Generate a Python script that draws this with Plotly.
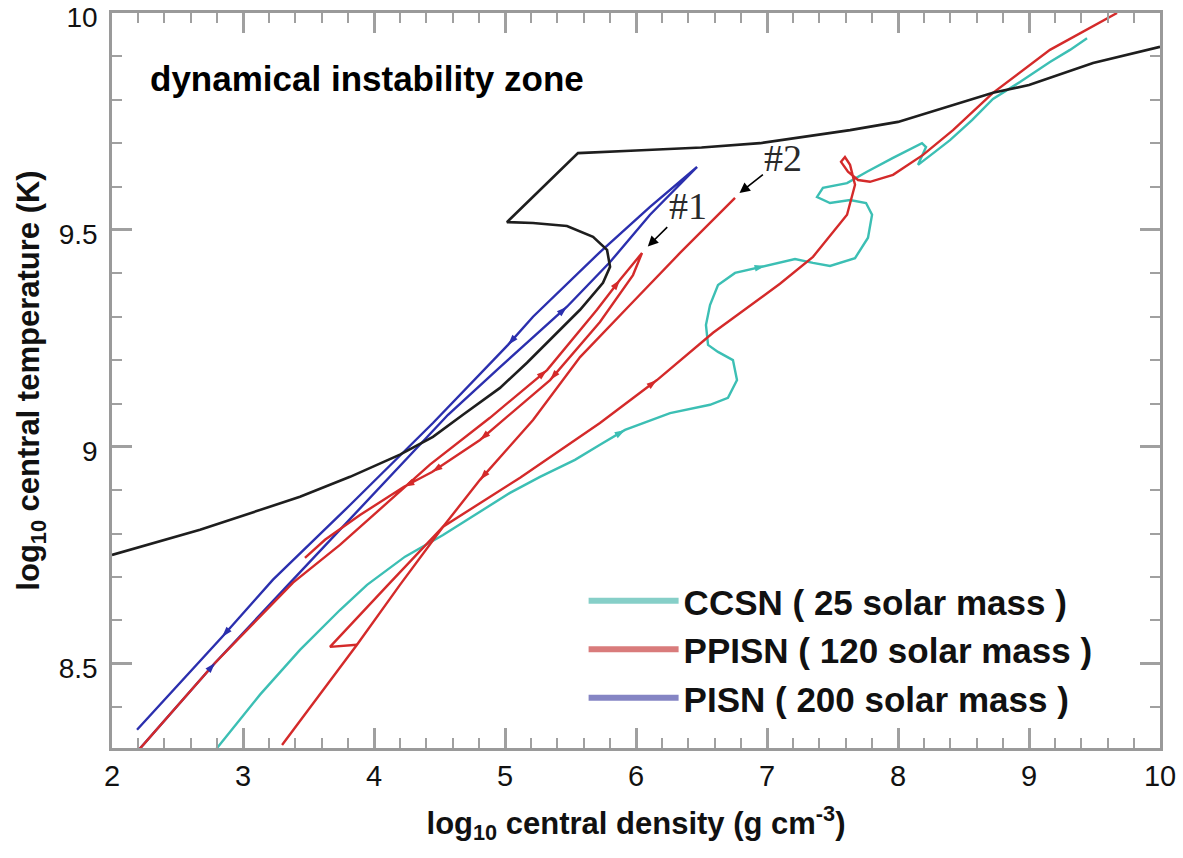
import plotly.graph_objects as go

# ---------------- data (log10 rho_c, log10 T_c) ----------------
# dynamical instability boundary
bound_x = [2.00, 2.672, 3.435, 3.817, 4.198, 4.450, 4.679, 4.962, 5.168, 5.366, 5.573, 5.748,
           5.802, 5.779, 5.672, 5.473, 5.214, 5.015, 5.557, 6.0, 6.5, 6.947, 7.634, 8.0,
           8.725, 9.0, 9.489, 10.0]
bound_y = [8.751, 8.809, 8.885, 8.931, 8.982, 9.023, 9.074, 9.136, 9.194, 9.253, 9.316, 9.378,
           9.415, 9.454, 9.484, 9.509, 9.516, 9.518, 9.677, 9.683, 9.690, 9.700, 9.730, 9.749,
           9.816, 9.834, 9.885, 9.922]

# CCSN (25 Msun)
ccsn_x = [2.786, 3.130, 3.435, 3.740, 3.947, 4.237, 4.527, 4.809, 5.038, 5.267, 5.534, 5.725,
          5.916, 6.260, 6.565, 6.702, 6.771, 6.740, 6.626, 6.550, 6.534, 6.565, 6.626, 6.756,
          6.985, 7.214, 7.351, 7.481, 7.672, 7.771, 7.802, 7.756, 7.634, 7.481, 7.382, 7.427,
          7.611, 7.763, 7.962, 8.183, 8.214, 8.153, 8.282, 8.397, 8.565, 8.725, 8.931, 9.160,
          9.313, 9.443]
ccsn_y = [8.300, 8.429, 8.532, 8.624, 8.682, 8.747, 8.797, 8.850, 8.894, 8.931, 8.970, 9.005,
          9.039, 9.078, 9.097, 9.113, 9.154, 9.200, 9.219, 9.235, 9.281, 9.327, 9.373, 9.401,
          9.417, 9.433, 9.424, 9.417, 9.435, 9.482, 9.535, 9.562, 9.569, 9.562, 9.576, 9.597,
          9.608, 9.634, 9.666, 9.700, 9.691, 9.650, 9.680, 9.707, 9.753, 9.802, 9.841, 9.887,
          9.915, 9.942]
ccsn_arrows = [12, 24]

# PPISN (120 Msun): pulse #1 excursion
ppisn_a_x = [2.191, 2.786, 3.382, 3.740, 4.427, 4.885, 5.321, 5.702, 5.878, 6.046, 5.977, 5.725,
             5.344, 4.809, 4.443, 4.229, 3.893, 3.626, 3.473]
ppisn_a_y = [8.297, 8.502, 8.687, 8.774, 8.959, 9.067, 9.177, 9.316, 9.385, 9.447, 9.396, 9.288,
             9.154, 9.016, 8.942, 8.908, 8.843, 8.786, 8.744]
ppisn_a_arrows = [6, 8, 12, 13, 14, 15]
# pulse #2 track
ppisn_b_x = [6.756, 6.336, 5.954, 5.573, 5.214, 4.809, 4.527, 4.198, 3.870, 3.298]
ppisn_b_y = [9.574, 9.447, 9.327, 9.207, 9.062, 8.924, 8.816, 8.682, 8.544, 8.313]
ppisn_b_arrows = [5]
# final contraction
ppisn_c_x = [3.870, 3.664, 4.107, 4.527, 5.115, 5.725, 6.160, 6.588, 7.099, 7.351, 7.611, 7.672,
             7.634, 7.595, 7.565, 7.618, 7.695, 7.786, 7.962, 8.191, 8.420, 8.725, 9.160, 9.412,
             9.672]
ppisn_c_y = [8.544, 8.539, 8.682, 8.816, 8.929, 9.055, 9.154, 9.263, 9.376, 9.438, 9.535, 9.604,
             9.650, 9.668, 9.657, 9.634, 9.615, 9.611, 9.627, 9.673, 9.730, 9.816, 9.915, 9.956,
             10.00]
ppisn_c_arrows = [6]

# PISN (200 Msun)
pisn_x = [2.191, 2.786, 3.382, 3.992, 4.565, 4.962, 5.473, 5.802, 6.107, 6.466,
          6.107, 5.725, 5.214, 5.023, 4.450, 3.817, 3.229, 2.840, 2.191]
pisn_y = [8.297, 8.502, 8.694, 8.889, 9.074, 9.184, 9.323, 9.426, 9.535, 9.645,
          9.553, 9.449, 9.300, 9.235, 9.055, 8.866, 8.694, 8.562, 8.348]
pisn_arrows = [1, 6, 13, 17]

legend_names = ["CCSN ( 25 solar mass )", "PPISN ( 120 solar mass )", "PISN ( 200 solar mass )"]

# ---------------- styling ----------------
C_CYAN, C_RED, C_BLUE, C_BLACK = "#3cbfb4", "#d42a2a", "#2b2fae", "#1e1e1e"
L_CYAN, L_RED, L_BLUE = "#86cfc8", "#d97b7b", "#8585c4"
FONT = "Liberation Sans, Arial, sans-serif"
SERIF = "Liberation Serif, Times New Roman, serif"


def arrow_trace(xs, ys, idxs, color):
    ax, ay, op = [], [], []
    for i in idxs:
        ax += [xs[i - 1], xs[i]]
        ay += [ys[i - 1], ys[i]]
        op += [0, 1]
    return go.Scatter(x=ax, y=ay, mode="markers", hoverinfo="skip", showlegend=False,
                      marker=dict(symbol="arrow", size=11, angleref="previous",
                                  color=color, opacity=op, line=dict(width=0)))


fig = go.Figure()


def line(xs, ys, color, w=2.4):
    fig.add_trace(go.Scatter(x=xs, y=ys, mode="lines", showlegend=False, hoverinfo="skip",
                             line=dict(color=color, width=w)))


line(ccsn_x, ccsn_y, C_CYAN)
line(pisn_x, pisn_y, C_BLUE)
line(ppisn_a_x, ppisn_a_y, C_RED)
line(ppisn_b_x, ppisn_b_y, C_RED)
line(ppisn_c_x, ppisn_c_y, C_RED)
line(bound_x, bound_y, C_BLACK, 2.6)

fig.add_trace(arrow_trace(ccsn_x, ccsn_y, ccsn_arrows, C_CYAN))
fig.add_trace(arrow_trace(pisn_x, pisn_y, pisn_arrows, C_BLUE))
fig.add_trace(arrow_trace(ppisn_a_x, ppisn_a_y, ppisn_a_arrows, C_RED))
fig.add_trace(arrow_trace(ppisn_b_x, ppisn_b_y, ppisn_b_arrows, C_RED))
fig.add_trace(arrow_trace(ppisn_c_x, ppisn_c_y, ppisn_c_arrows, C_RED))

# legend-only entries
for name, col, grp in zip(legend_names, [L_CYAN, L_RED, L_BLUE], ["g1", "g2", "g3"]):
    fig.add_trace(go.Scatter(x=[None], y=[None], mode="lines", name=name, legendgroup=grp,
                             line=dict(color=col, width=6)))

# text annotations
fig.add_annotation(x=3.95, y=9.85, text="dynamical instability zone", showarrow=False,
                   font=dict(family=FONT, size=35, color="black", weight="bold"))
fig.add_annotation(x=6.40, y=9.555, text="#1", showarrow=False,
                   font=dict(family=SERIF, size=38, color="#2a2a2a"))
fig.add_annotation(x=7.12, y=9.665, text="#2", showarrow=False,
                   font=dict(family=SERIF, size=38, color="#2a2a2a"))
fig.add_annotation(x=6.09, y=9.462, ax=6.25, ay=9.51, xref="x", yref="y", axref="x", ayref="y",
                   text="", showarrow=True, arrowhead=2, arrowsize=1.3, arrowwidth=1.6, arrowcolor="black")
fig.add_annotation(x=6.79, y=9.585, ax=6.98, ay=9.63, xref="x", yref="y", axref="x", ayref="y",
                   text="", showarrow=True, arrowhead=2, arrowsize=1.3, arrowwidth=1.6, arrowcolor="black")

axis_common = dict(showgrid=False, zeroline=False, showline=True, linecolor="#9a9a9a", linewidth=2.5,
                   mirror="allticks", ticks="inside", ticklen=20, tickwidth=2.5, tickcolor="#a0a0a0",
                   automargin=False, ticklabeloverflow="allow")

fig.update_xaxes(range=[2, 10], dtick=1, tick0=0,
                 tickfont=dict(family=FONT, size=29, color="#111"),
                 minor=dict(ticks="inside", ticklen=10, tickwidth=2, tickcolor="#a0a0a0", dtick=0.2, showgrid=False),
                 title=dict(text="log<sub>10</sub> central density (g cm<sup>-3</sup>)", standoff=22,
                            font=dict(family=FONT, size=31, color="#111", weight="bold")),
                 **axis_common)
fig.update_yaxes(range=[8.306, 10], dtick=0.5, tick0=0, ticklabelstandoff=6, ticklabelshift=4,
                 tickfont=dict(family=FONT, size=28, color="#111"),
                 minor=dict(ticks="inside", ticklen=10, tickwidth=2, tickcolor="#a0a0a0", dtick=0.1, showgrid=False),
                 title=dict(text="log<sub>10</sub> central temperature (K)", standoff=10,
                            font=dict(family=FONT, size=31, color="#111", weight="bold")),
                 **axis_common)

fig.update_layout(
    width=1183, height=858,
    margin=dict(l=112, r=23, t=13, b=110),
    paper_bgcolor="white", plot_bgcolor="white",
    showlegend=True,
    legend=dict(x=0.45, y=0.24, xanchor="left", yanchor="top", bgcolor="rgba(0,0,0,0)",
                font=dict(family=FONT, size=35, color="#111", weight="bold"),
                itemwidth=90, tracegroupgap=0, traceorder="normal"),
)

fig.write_html("out.html", config={"displayModeBar": False},
               post_script="document.body.style.margin='0px';document.body.style.overflow='hidden';")
